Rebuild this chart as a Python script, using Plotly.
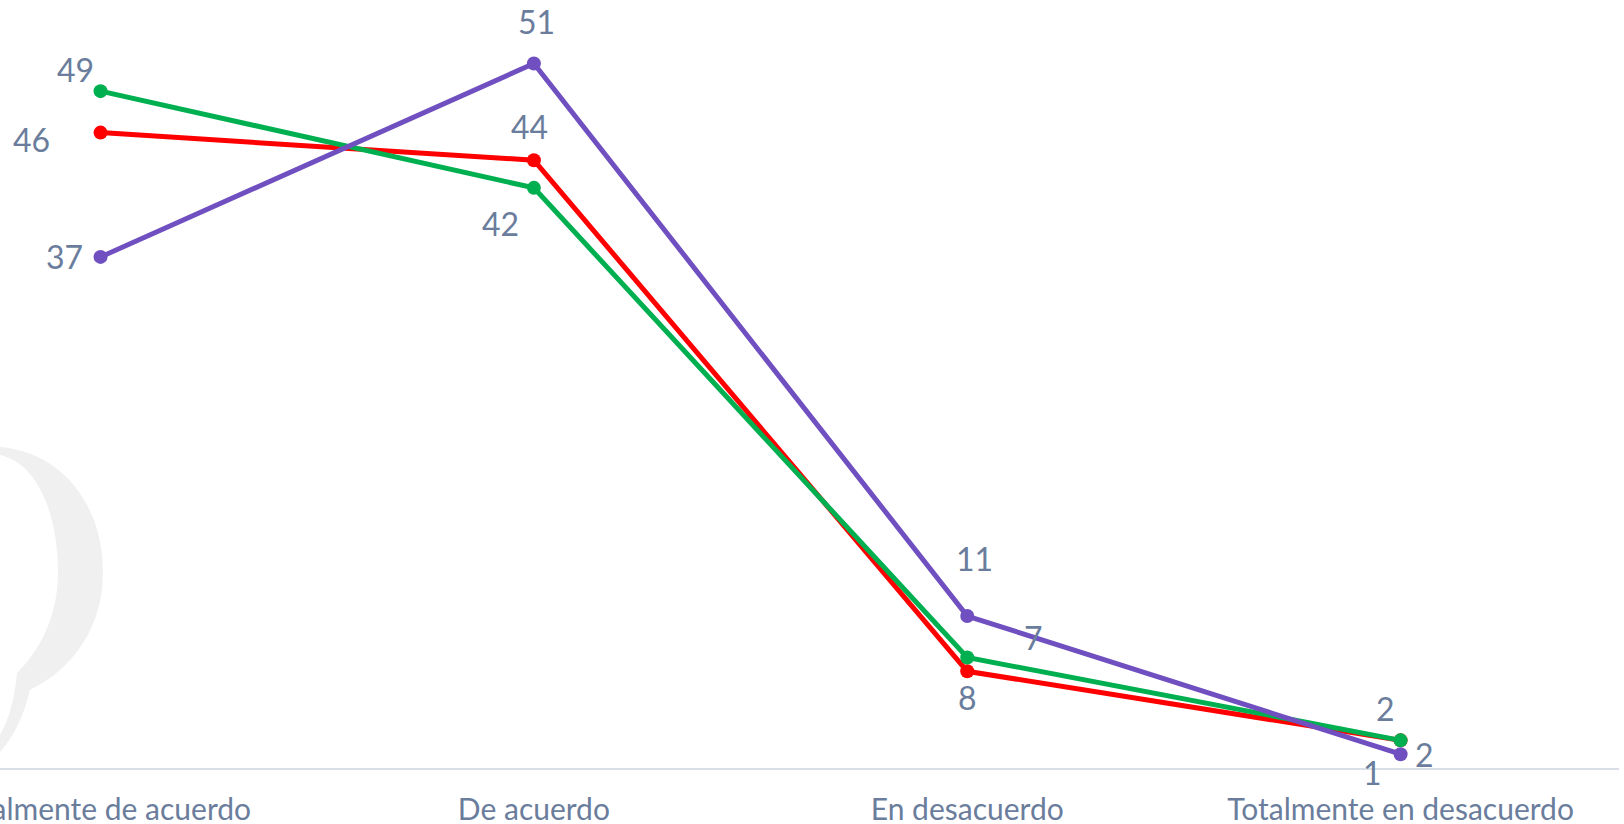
import plotly.graph_objects as go

categorias = ["Totalmente de acuerdo", "De acuerdo", "En desacuerdo", "Totalmente en desacuerdo"]
rojo = [46, 44, 7, 2]
verde = [49, 42, 8, 2]
morado = [37, 51, 11, 1]

# desplazamiento (px) de cada etiqueta respecto a su punto, como en el original
off_rojo = [(-69, -7), (-4, 34), (66, 34), (24, -14)]
off_verde = [(-25, 22), (-33, -36), (0, -40), (-15, 32)]
off_morado = [(-36, 0), (3, 42), (7, 58), (-28, -18)]

W, H = 1624, 824
PW, PH = 1619, 768  # area del grafico en px
txt_color = "#6a7d9c"
fuente = "Lato"

fig = go.Figure()

series = [
    ("rojo", rojo, "#ff0000", off_rojo),
    ("verde", verde, "#00b050", off_verde),
    ("morado", morado, "#7050c0", off_morado),
]

for nombre, vals, color, offs in series:
    fig.add_trace(go.Scatter(
        x=categorias, y=vals, name=nombre, mode="lines+markers",
        line=dict(color=color, width=5),
        marker=dict(color=color, size=14),
        showlegend=False,
    ))

for nombre, vals, color, offs in series:
    for cat, v, (dx, dy) in zip(categorias, vals, offs):
        fig.add_annotation(
            x=cat, y=v, text=str(v), showarrow=False,
            xshift=dx, yshift=dy,
            font=dict(family=fuente, size=32, color=txt_color),
        )


# marca de agua (bocadillo gris claro) a la izquierda
def px(x, y):
    return f"{x / PW:.4f},{1 - y / PH:.4f}"


path = (
    f"M {px(0, 447)} C {px(62, 452)} {px(103, 505)} {px(103, 572)} "
    f"C {px(103, 625)} {px(75, 668)} {px(30, 690)} "
    f"C {px(24, 715)} {px(14, 737)} {px(0, 752)} "
    f"L {px(0, 735)} C {px(10, 718)} {px(15, 695)} {px(17, 673)} "
    f"C {px(45, 645)} {px(58, 610)} {px(58, 572)} "
    f"C {px(58, 510)} {px(35, 462)} {px(0, 455)} Z"
)
fig.add_shape(type="path", path=path, xref="paper", yref="paper",
              fillcolor="#f0f0f0", line=dict(width=0), layer="below")

fig.update_layout(
    width=W, height=H,
    margin=dict(l=0, r=W - PW, t=0, b=H - PH, autoexpand=False),
    plot_bgcolor="white", paper_bgcolor="white",
    font=dict(family=fuente, color=txt_color),
    xaxis=dict(
        type="category", range=[-0.232, 3.504], automargin=False,
        showline=True, linecolor="#d9dee7", linewidth=2,
        showgrid=False, zeroline=False, ticks="",
        ticklabelstandoff=14,
        tickfont=dict(family=fuente, size=30, color=txt_color),
    ),
    yaxis=dict(range=[0, 55.6], visible=False, automargin=False),
)

# sin el margen por defecto del body para que el grafico ocupe toda la ventana
fig.write_html("out.html", config={"displayModeBar": False},
               post_script="document.body.style.margin='0';")
